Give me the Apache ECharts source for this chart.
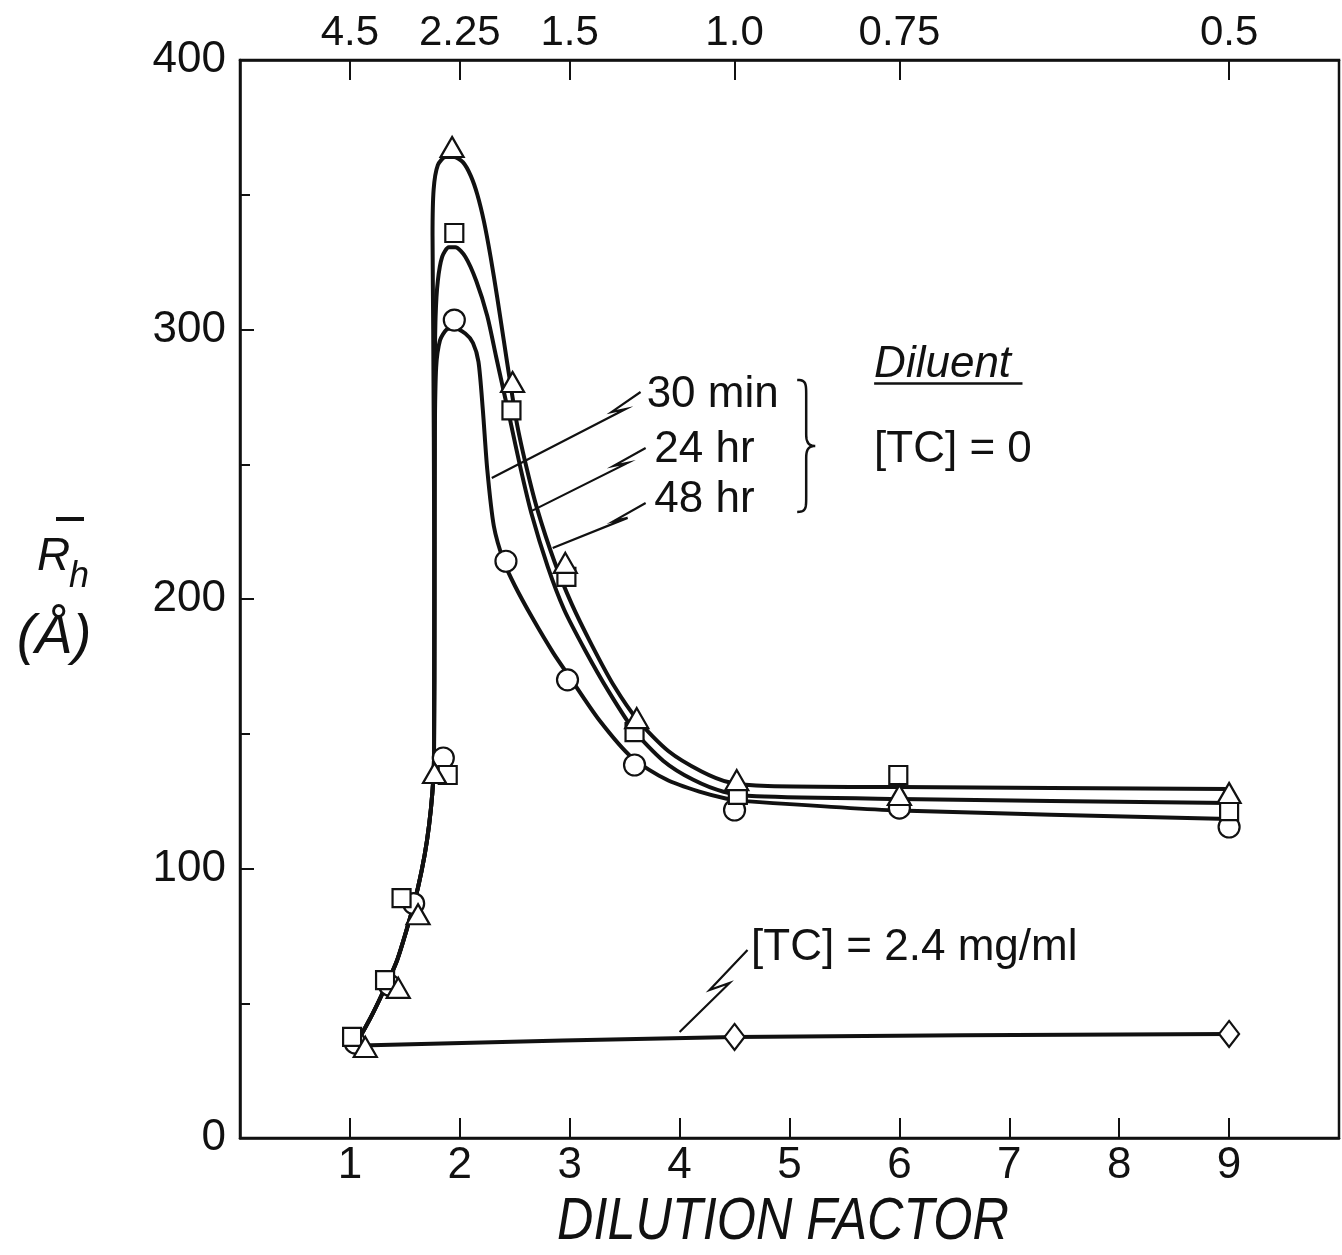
<!DOCTYPE html>
<html>
<head>
<meta charset="utf-8">
<title>Hydrodynamic radius vs dilution factor</title>
<script src="https://cdn.jsdelivr.net/npm/echarts@6/dist/echarts.min.js"></script>
<style>
  html, body { margin: 0; padding: 0; background: #fff; }
  #chart { width: 1342px; height: 1255px; }
</style>
</head>
<body>
<div id="chart"></div>
<script>
// ---- axis ticks ----
const bottomTicks = [1, 2, 3, 4, 5, 6, 7, 8, 9];
const topTickLabels = ['4.5', '2.25', '1.5', '1.0', '0.75', '0.5'];
// concentration (mg/ml) on the top scale = 4.5 / dilution factor
const topTickPositions = topTickLabels.map(c => 4.5 / parseFloat(c));

// ---- measured points: [dilution factor, Rh (Å)] ----
const circles30min = [[1.05, 35.2], [1.36, 56.7], [1.58, 87], [1.85, 141], [1.95, 303.5], [2.42, 214], [2.98, 170], [3.59, 138.4], [4.5, 121.7], [6, 122.4], [9, 115.4]];
const squares24hr = [[1.02, 37.5], [1.32, 58.6], [1.47, 89], [1.89, 134.7], [1.95, 335.8], [2.47, 270], [2.97, 208.2], [3.59, 150.6], [4.53, 127.3], [5.99, 134.7], [9, 121.3]];
const triangles48hr = [[1.14, 33.8], [1.44, 55.7], [1.62, 83], [1.77, 135.4], [1.93, 367.7], [2.48, 280.5], [2.96, 213.4], [3.61, 155.8], [4.52, 132.8], [6, 127.3], [9, 128]];
const diamondsTC = [[4.5, 37.5], [9, 38.6]];

// ---- hand-drawn fitted curves ----
const riseShared = [[1.0, 34], [1.06, 35.5], [1.18, 44], [1.3, 54], [1.43, 66], [1.55, 82], [1.62, 93], [1.68, 105], [1.72, 116], [1.75, 128], [1.765, 140]];
const curve30min = riseShared.concat([[1.77, 200], [1.773, 262], [1.785, 286], [1.82, 296], [1.88, 300], [1.95, 300.5], [2.05, 298.5], [2.12, 295], [2.17, 288], [2.21, 270], [2.25, 248], [2.31, 227], [2.4, 214], [2.5, 205], [2.66, 193], [2.85, 180], [3.0, 171], [3.27, 155], [3.57, 141], [3.88, 133], [4.18, 128.5], [4.42, 126], [4.6, 125], [6, 121.5], [9, 118.4]]);
const curve24hr = riseShared.concat([[1.77, 200], [1.772, 282], [1.78, 305], [1.8, 318], [1.84, 327], [1.9, 330.5], [1.96, 330.5], [2.05, 327], [2.15, 318], [2.25, 305], [2.33, 290], [2.4, 277], [2.46, 266], [2.55, 249], [2.65, 232], [2.8, 212], [2.95, 196], [3.14, 181], [3.35, 166], [3.59, 151], [3.85, 140], [4.12, 133], [4.4, 128.5], [4.7, 126.8], [6, 125.8], [9, 124.3]]);
const curve48hr = riseShared.concat([[1.767, 220], [1.758, 300], [1.752, 335], [1.762, 352], [1.8, 361], [1.87, 364], [1.95, 364], [2.03, 362], [2.1, 357], [2.16, 350], [2.22, 340], [2.28, 327], [2.34, 312], [2.4, 296], [2.46, 280], [2.52, 265], [2.6, 250], [2.7, 234], [2.86, 214], [3.02, 198], [3.2, 183], [3.4, 168], [3.62, 155], [3.9, 143.5], [4.2, 136], [4.45, 132], [4.8, 130.6], [6, 130.2], [9, 129.5]]);
const curveTC = [[1.1, 34.3], [4.5, 37.5], [9, 38.6]];

// ---- annotation anchors (data units) ----
const noteLabels = [
  { text: '30 min', at: [3.70, 275.7] },
  { text: '24 hr', at: [3.77, 255.3] },
  { text: '48 hr', at: [3.77, 236.7] },
  { text: '[TC] = 0', at: [5.77, 255.3] },
  { text: '[TC] = 2.4 mg/ml', at: [4.65, 70.5] }
];
const diluentLabel = { text: 'Diluent', at: [5.77, 286.8], underline: [[5.77, 280.0], [7.12, 280.0]] };
const leaders = [
  [[3.645, 276.8], [3.382, 269.4], [3.509, 270.5], [2.291, 244.9]],
  [[3.691, 256.0], [3.4, 249.4], [3.527, 250.5], [2.655, 232.7]],
  [[3.691, 235.6], [3.4, 228.9], [3.527, 230.1], [2.845, 218.9]],
  [[4.618, 69.8], [4.273, 54.9], [4.455, 57.5], [4.0, 39.3]]
];
const braceTop = [5.07, 281.3];
const braceBottom = [5.07, 232.3];

const FONT = "'Liberation Sans', Arial, sans-serif";
const INK = '#111';

const chart = echarts.init(document.getElementById('chart'), null, { renderer: 'canvas' });

function curveSeries(name, data) {
  return {
    name, type: 'line', data, smooth: 0.25, showSymbol: false, symbol: 'none',
    lineStyle: { color: INK, width: 4, cap: 'round', join: 'round' },
    z: 2, silent: true, animation: false
  };
}
function markerSeries(name, data, symbol, size) {
  return {
    name, type: 'scatter', data, symbol, symbolSize: size,
    itemStyle: { color: '#fff', borderColor: INK, borderWidth: 2.2, opacity: 1 },
    z: 5, silent: true, animation: false
  };
}

chart.setOption({
  animation: false,
  backgroundColor: '#fff',
  grid: {
    left: 240, right: 3, top: 60, bottom: 117,
    show: true, borderColor: INK, borderWidth: 2.5,
    containLabel: false, outerBoundsMode: 'none'
  },
  xAxis: [
    {
      type: 'value', position: 'bottom', min: 0, max: 10,
      axisLine: { show: true, lineStyle: { color: INK, width: 2.5 } },
      axisTick: { show: true, inside: true, length: 20, customValues: bottomTicks, lineStyle: { color: INK, width: 2 } },
      axisLabel: { show: true, customValues: bottomTicks, margin: 6, fontFamily: FONT, fontSize: 44, color: INK },
      splitLine: { show: false }
    },
    {
      type: 'value', position: 'top', min: 0, max: 10,
      axisLine: { show: true, lineStyle: { color: INK, width: 2.5 } },
      axisTick: { show: true, inside: true, length: 20, customValues: topTickPositions, lineStyle: { color: INK, width: 2 } },
      axisLabel: {
        show: true, customValues: topTickPositions, margin: 6, fontFamily: FONT, fontSize: 42, color: INK,
        formatter: v => {
          const i = topTickPositions.findIndex(p => Math.abs(p - v) < 1e-6);
          return i >= 0 ? topTickLabels[i] : '';
        }
      },
      splitLine: { show: false }
    }
  ],
  yAxis: [
    {
      type: 'value', min: 0, max: 400, interval: 100,
      axisLine: { show: true, lineStyle: { color: INK, width: 2.5 } },
      axisTick: { show: true, inside: true, length: 14, lineStyle: { color: INK, width: 2 } },
      minorTick: { show: true, splitNumber: 2, length: 10, lineStyle: { color: INK, width: 2 } },
      axisLabel: { show: true, margin: 14, fontFamily: FONT, fontSize: 44, color: INK },
      splitLine: { show: false }, minorSplitLine: { show: false }
    }
  ],
  series: [
    curveSeries('30 min curve', curve30min),
    curveSeries('24 hr curve', curve24hr),
    curveSeries('48 hr curve', curve48hr),
    curveSeries('[TC] = 2.4 mg/ml curve', curveTC),
    markerSeries('30 min', circles30min, 'circle', 21),
    markerSeries('24 hr', squares24hr, 'rect', 18),
    markerSeries('48 hr', triangles48hr, 'triangle', [23, 20]),
    markerSeries('[TC] = 2.4 mg/ml', diamondsTC, 'diamond', [20, 26])
  ]
});

// ---- annotations placed from data coordinates ----
const px = p => chart.convertToPixel({ gridIndex: 0 }, p);
const graphics = [];

noteLabels.forEach(n => {
  const [x, y] = px(n.at);
  graphics.push({
    type: 'text', x, y, silent: true, z: 10,
    style: { text: n.text, fontFamily: FONT, fontSize: 44, fill: INK, align: 'left', verticalAlign: 'middle' }
  });
});

{
  const [x, y] = px(diluentLabel.at);
  graphics.push({
    type: 'text', x, y, silent: true, z: 10,
    style: { text: diluentLabel.text, fontFamily: FONT, fontStyle: 'italic', fontSize: 44, fill: INK, align: 'left', verticalAlign: 'middle' }
  });
  const a = px(diluentLabel.underline[0]);
  const b = px(diluentLabel.underline[1]);
  graphics.push({ type: 'line', silent: true, z: 10, shape: { x1: a[0], y1: a[1], x2: b[0], y2: b[1] }, style: { stroke: INK, lineWidth: 2.5 } });
}

leaders.forEach(pts => {
  graphics.push({
    type: 'polyline', silent: true, z: 10,
    shape: { points: pts.map(px) },
    style: { stroke: INK, lineWidth: 2.2, fill: null, lineJoin: 'miter' }
  });
});

// curly brace grouping the three time labels, sampled from cubic segments
function cubic(p0, p1, p2, p3, n) {
  const out = [];
  for (let i = 0; i <= n; i++) {
    const t = i / n, u = 1 - t;
    out.push([
      u * u * u * p0[0] + 3 * u * u * t * p1[0] + 3 * u * t * t * p2[0] + t * t * t * p3[0],
      u * u * u * p0[1] + 3 * u * u * t * p1[1] + 3 * u * t * t * p2[1] + t * t * t * p3[1]
    ]);
  }
  return out;
}
{
  const t = px(braceTop);
  const b = px(braceBottom);
  const h = b[1] - t[1];
  const w = 18;
  const s = h / 132;
  const P = (x, y) => [t[0] + x * w / 18, t[1] + y * s];
  const pts = [].concat(
    cubic(P(0, 0), P(9, 0), P(9, 4), P(9, 16), 12),
    [P(9, 54)],
    cubic(P(9, 54), P(9, 62), P(11, 66), P(18, 66), 10),
    cubic(P(18, 66), P(11, 66), P(9, 70), P(9, 78), 10),
    [P(9, 116)],
    cubic(P(9, 116), P(9, 128), P(9, 132), P(0, 132), 12)
  );
  graphics.push({
    type: 'polyline', silent: true, z: 10,
    shape: { points: pts },
    style: { stroke: INK, lineWidth: 2.5, fill: null }
  });
}

// x-axis title, slightly condensed about its own centre
graphics.push({
  type: 'text', x: 783, y: 1222, scaleX: 0.84, originX: 0, originY: 0, silent: true,
  style: { text: 'DILUTION FACTOR', x: 0, y: 0, fontFamily: FONT, fontStyle: 'italic', fontSize: 60, fill: INK, align: 'center', verticalAlign: 'middle' }
});

// y-axis title: R-bar subscript h, (Å)
graphics.push(
  { type: 'text', x: 37, y: 557, silent: true, style: { text: 'R', fontFamily: FONT, fontStyle: 'italic', fontSize: 46, fill: INK, align: 'left', verticalAlign: 'middle' } },
  { type: 'text', x: 69, y: 577, silent: true, style: { text: 'h', fontFamily: FONT, fontStyle: 'italic', fontSize: 36, fill: INK, align: 'left', verticalAlign: 'middle' } },
  { type: 'line', silent: true, shape: { x1: 56, y1: 519, x2: 84, y2: 519 }, style: { stroke: INK, lineWidth: 4 } },
  { type: 'text', x: 54, y: 637, silent: true, style: { text: '(Å)', fontFamily: FONT, fontStyle: 'italic', fontSize: 56, fill: INK, align: 'center', verticalAlign: 'middle' } }
);

chart.setOption({ graphic: graphics });
</script>
</body>
</html>
